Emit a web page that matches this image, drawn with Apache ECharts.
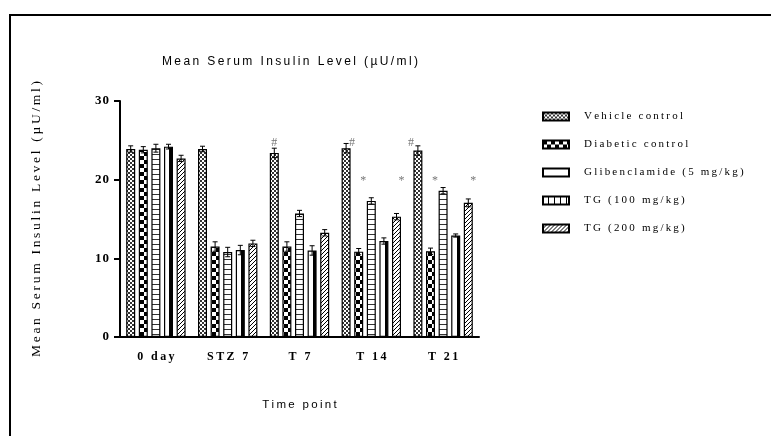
<!DOCTYPE html>
<html>
<head>
<meta charset="utf-8">
<script src="https://cdn.jsdelivr.net/npm/echarts@6/dist/echarts.min.js"></script>
<style>
  html, body { margin: 0; padding: 0; background: #fff; }
  #chart { width: 771px; height: 436px; }
</style>
</head>
<body>
<div id="chart"></div>
<script>
// Time points and group means (µU/ml) with SEM
const categories = ['0 day', 'STZ 7', 'T 7', 'T 14', 'T 21'];
const seriesNames = ['Vehicle control', 'Diabetic control', 'Glibenclamide (5 mg/kg)', 'TG (100 mg/kg)', 'TG (200 mg/kg)'];

const vehicle  = [23.9, 23.9, 23.4, 24.0, 23.7];
const diabetic = [23.8, 11.5, 11.5, 10.85, 10.9];
const glib     = [24.0, 10.8, 15.7, 17.3, 18.6];
const tg100    = [24.2, 11.05, 11.0, 12.2, 12.9];
const tg200    = [22.7, 11.9, 13.25, 15.3, 17.05];

const vehicleErr  = [0.4, 0.35, 0.6, 0.6, 0.6];
const diabeticErr = [0.4, 0.6, 0.6, 0.4, 0.4];
const glibErr     = [0.5, 0.6, 0.4, 0.4, 0.4];
const tg100Err    = [0.3, 0.6, 0.6, 0.4, 0.2];
const tg200Err    = [0.4, 0.4, 0.4, 0.4, 0.5];

// significance marks (# vs diabetic control at baseline, * vs diabetic control)
const vehicleSig = ['', '', '#', '#', '#'];
const glibSig    = ['', '', '', '*', '*'];
const tg200Sig   = ['', '', '', '*', '*'];

const yTicks = [0, 10, 20, 30];

// ---------- styling helpers ----------
const SERIF = '"Liberation Serif", "DejaVu Serif", serif';
const SANS = '"Liberation Sans", Arial, sans-serif';
const spaced = (s, ch) => s.split('').join(ch || '\u2009');

function pattern(w, h, draw) {
  const c = document.createElement('canvas');
  c.width = w; c.height = h;
  const ctx = c.getContext('2d');
  ctx.fillStyle = '#fff';
  ctx.fillRect(0, 0, w, h);
  ctx.fillStyle = '#000';
  draw(ctx);
  return { image: c, repeat: 'repeat' };
}
const fineChecker = pattern(4, 4, ctx => { ctx.fillStyle = '#333'; ctx.fillRect(0, 0, 2, 2); ctx.fillRect(2, 2, 2, 2); });
const bigChecker = pattern(8, 8, ctx => { ctx.fillRect(0, 0, 4, 4); ctx.fillRect(4, 4, 4, 4); });
const hLines = pattern(4, 5, ctx => { ctx.fillStyle = '#333'; ctx.fillRect(0, 4, 4, 1); });
const vLines = pattern(6, 4, ctx => { ctx.fillRect(5, 0, 1, 4); });
const diagLines = pattern(4, 4, ctx => { for (let i = 0; i < 4; i++) ctx.fillRect(i, 3 - i, 1, 1); });
const rightHeavy = {
  type: 'linear', x: 0, y: 0, x2: 1, y2: 0,
  colorStops: [
    { offset: 0, color: '#fff' }, { offset: 0.6, color: '#fff' },
    { offset: 0.6, color: '#000' }, { offset: 1, color: '#000' }
  ]
};

const BAR_W = 9;
const BAR_GAP = 0.4;
const STEP = BAR_W * (1 + BAR_GAP);

const values = [vehicle, diabetic, glib, tg100, tg200];
const errors = [vehicleErr, diabeticErr, glibErr, tg100Err, tg200Err];
const fills = [fineChecker, bigChecker, hLines, rightHeavy, diagLines];

// mark placement: fixed heights on the value axis, small horizontal nudges
const HASH_LEVEL = 24.7;
const STAR_LEVEL = 19.9;
const hashNudge = [0, 0, 0, 6, -7];
function sigMarks(sig, level, nudge) {
  const out = [];
  sig.forEach((m, i) => {
    if (!m) return;
    out.push({
      coord: [i, level],
      label: { formatter: m, offset: [typeof nudge === 'number' ? nudge : nudge[i], 0] }
    });
  });
  return out;
}
const markSets = [
  sigMarks(vehicleSig, HASH_LEVEL, hashNudge),
  [],
  sigMarks(glibSig, STAR_LEVEL, -8),
  [],
  sigMarks(tg200Sig, STAR_LEVEL, 5)
];

const barSeries = seriesNames.map((name, si) => ({
  name,
  type: 'bar',
  barWidth: BAR_W,
  barGap: (BAR_GAP * 100) + '%',
  data: values[si],
  itemStyle: { color: fills[si], borderColor: '#000', borderWidth: 1.2 },
  emphasis: { disabled: true },
  markPoint: markSets[si].length ? {
    symbol: 'circle',
    symbolSize: 0,
    silent: true,
    label: {
      show: true, position: 'inside', color: '#777',
      fontFamily: SERIF, fontSize: 12
    },
    data: markSets[si]
  } : undefined
}));

const errData = [];
values.forEach((arr, si) => arr.forEach((v, ci) => errData.push([ci, si, v, errors[si][ci]])));

const errorSeries = {
  type: 'custom',
  z: 10,
  silent: true,
  data: errData,
  renderItem(params, api) {
    const ci = api.value(0), si = api.value(1), v = api.value(2), e = api.value(3);
    const top = api.coord([ci, v + e]);
    const bot = api.coord([ci, v - e]);
    const x = top[0] + (si - 2) * STEP;
    const st = { stroke: '#000', lineWidth: 1 };
    return {
      type: 'group',
      children: [
        { type: 'line', shape: { x1: x, y1: top[1], x2: x, y2: bot[1] }, style: st },
        { type: 'line', shape: { x1: x - 2.5, y1: top[1], x2: x + 2.5, y2: top[1] }, style: st },
        { type: 'line', shape: { x1: x - 2.5, y1: bot[1], x2: x + 2.5, y2: bot[1] }, style: st }
      ]
    };
  }
};

const chart = echarts.init(document.getElementById('chart'), null, { renderer: 'canvas' });
chart.setOption({
  animation: false,
  backgroundColor: '#fff',
  title: {
    text: spaced('Mean Serum Insulin Level (µU/ml)'),
    left: 285, top: 51, textAlign: 'center',
    textStyle: { fontFamily: SANS, fontSize: 12, fontWeight: 'normal', color: '#000' }
  },
  legend: {
    orient: 'vertical',
    left: 542, top: 110,
    padding: 0,
    icon: 'rect',
    itemWidth: 26, itemHeight: 8, itemGap: 15,
    selectedMode: false,
    formatter: n => spaced(n),
    textStyle: { fontFamily: SERIF, fontSize: 11, color: '#000', padding: [0, 0, 0, 10], lineHeight: 13 },
    data: [
      { name: seriesNames[0] },
      { name: seriesNames[1] },
      { name: seriesNames[2], itemStyle: { color: '#fff' } },
      { name: seriesNames[3], itemStyle: { color: vLines } },
      { name: seriesNames[4] }
    ]
  },
  grid: { left: 120, right: 292, top: 101, bottom: 99, containLabel: false },
  xAxis: {
    type: 'category',
    data: categories,
    name: spaced('Time point'),
    nameLocation: 'middle',
    nameGap: 62,
    nameTextStyle: { fontFamily: SANS, fontSize: 11.5, color: '#000' },
    axisLine: { lineStyle: { color: '#000', width: 2 } },
    axisTick: { alignWithLabel: true, length: 5, lineStyle: { color: '#000', width: 2 } },
    axisLabel: {
      margin: 14, color: '#000', fontFamily: SERIF, fontSize: 12, fontWeight: 'bold',
      formatter: v => spaced(v)
    },
    splitLine: { show: false }
  },
  yAxis: {
    type: 'value',
    min: yTicks[0], max: yTicks[yTicks.length - 1], interval: 10,
    name: spaced('Mean Serum Insulin Level (µU/ml)'),
    nameLocation: 'middle',
    nameRotate: 90,
    nameGap: 77,
    nameTextStyle: { fontFamily: SERIF, fontSize: 13.5, color: '#000' },
    axisLine: { show: true, lineStyle: { color: '#000', width: 2 } },
    axisTick: { show: true, length: 6, lineStyle: { color: '#000', width: 2 } },
    axisLabel: {
      margin: 11, color: '#000', fontFamily: SERIF, fontSize: 13, fontWeight: 'bold',
      formatter: v => spaced(String(v), '\u200A')
    },
    splitLine: { show: false }
  },
  graphic: [
    { type: 'line', shape: { x1: 9, y1: 15, x2: 771, y2: 15 }, style: { stroke: '#000', lineWidth: 2 }, silent: true },
    { type: 'line', shape: { x1: 10, y1: 14, x2: 10, y2: 436 }, style: { stroke: '#000', lineWidth: 2 }, silent: true }
  ],
  series: [...barSeries, errorSeries]
});
</script>
</body>
</html>
